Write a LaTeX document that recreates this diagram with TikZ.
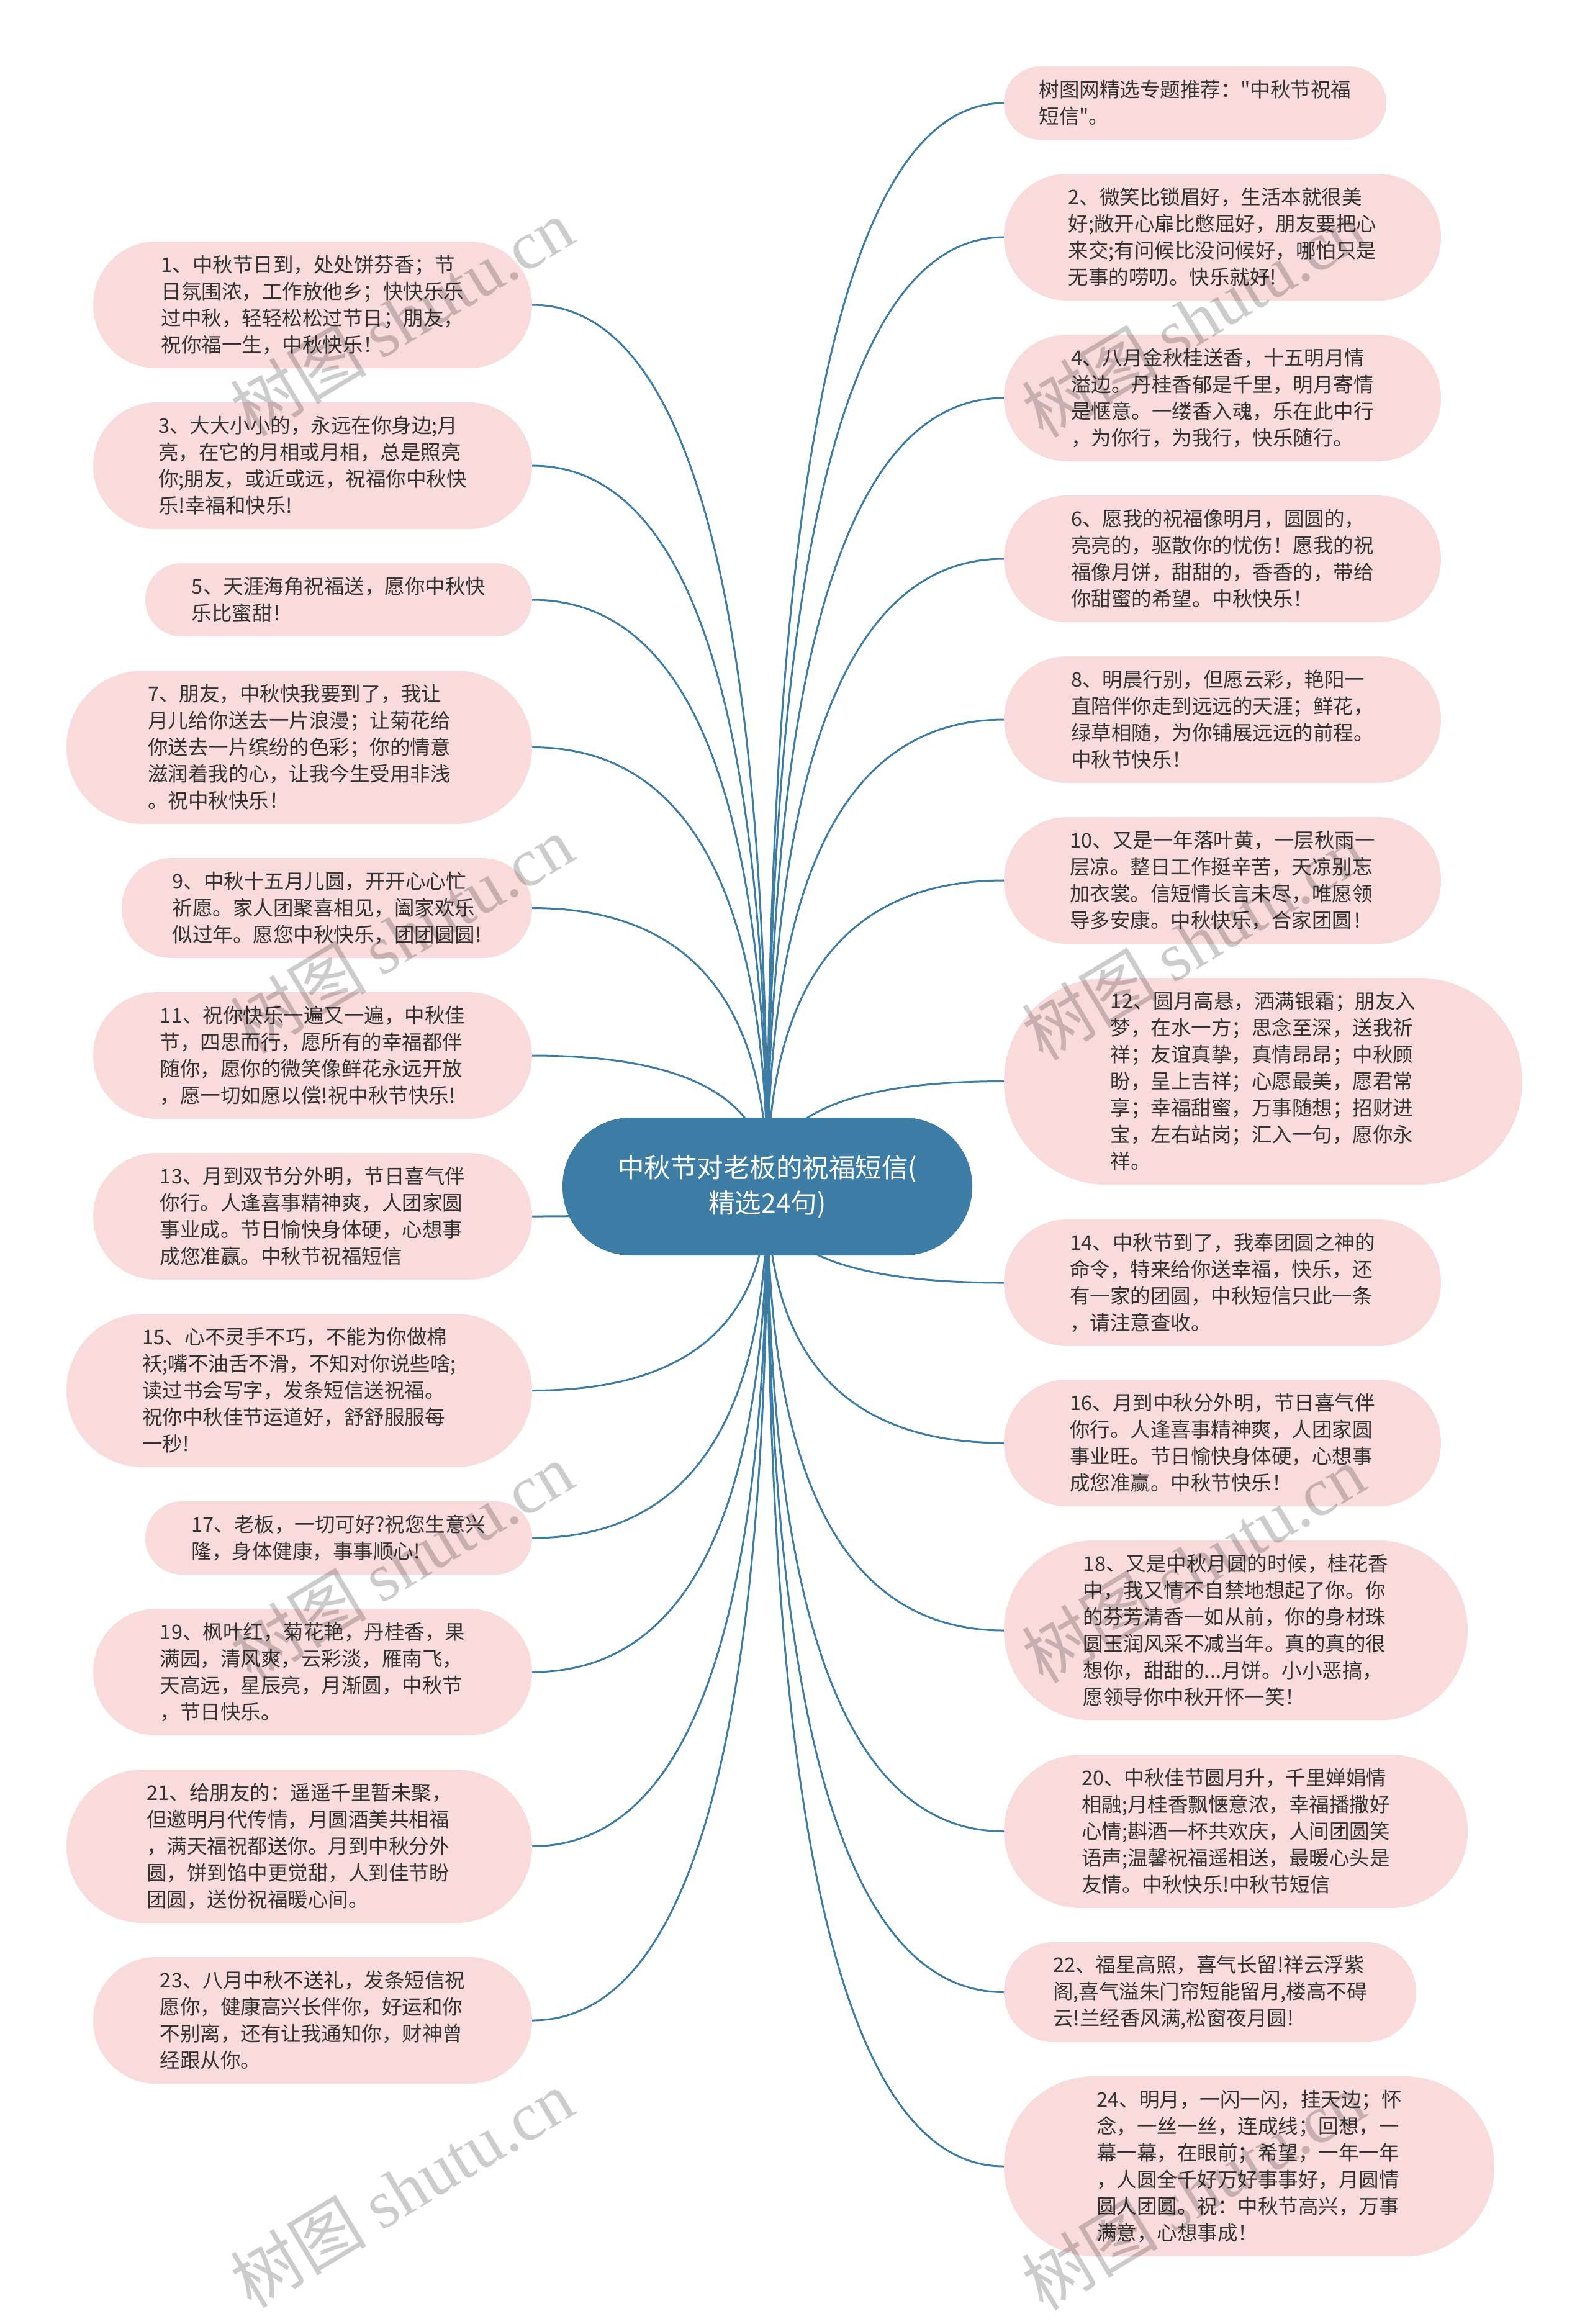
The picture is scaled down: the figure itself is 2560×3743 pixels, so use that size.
\documentclass[tikz,border=0pt]{standalone}
\usepackage{fontspec}
\setmainfont{Noto Sans CJK SC}
\newfontfamily\plaincjk{Noto Sans CJK SC}
\newfontfamily\wmlatin{Liberation Serif}
\usetikzlibrary{calc,backgrounds}
\definecolor{hubblue}{HTML}{3D7CA4}
\definecolor{leaffill}{HTML}{FADBDB}
\definecolor{leaftext}{HTML}{333333}
\begin{document}
\begin{tikzpicture}[x=1pt,y=-1pt,
  leaf/.style={fill=leaffill, text=leaftext, align=left, inner sep=0pt,
    font=\plaincjk\fontsize{32.5}{43}\selectfont},
  sz/.style n args={3}{minimum width=#1pt, minimum height=#2pt, rounded corners=#3pt},
  hub/.style={fill=hubblue, text=white, align=center, inner sep=0pt,
    font=\plaincjk\fontsize{42.5}{57}\selectfont, minimum width=660pt, minimum height=222pt,
    rounded corners=110pt},
  edge/.style={draw=hubblue, line width=3pt},
  wm/.style={text=black, text opacity=0.2, rotate=31, inner sep=0pt,
    font=\plaincjk\fontsize{110}{110}\selectfont}
]
\useasboundingbox (0,0) rectangle (2560,3743);

% central node
\node[hub] (c) at (1236,1911) {中秋节对老板的祝福短信(\\精选24句)};

% left column
\node[leaf, sz={707}{204}{101.5}] (L1) at (503.5,491) {1、中秋节日到，处处饼芬香；节\\日氛围浓，工作放他乡；快快乐乐\\过中秋，轻轻松松过节日；朋友，\\祝你福一生，中秋快乐！};
\node[leaf, sz={707}{204}{101.5}] (L3) at (503.5,750) {3、大大小小的，永远在你身边;月\\亮，在它的月相或月相，总是照亮\\你;朋友，或近或远，祝福你中秋快\\乐!幸福和快乐!};
\node[leaf, sz={623}{118}{58.5}] (L5) at (545.5,966) {5、天涯海角祝福送，愿你中秋快\\乐比蜜甜！};
\node[leaf, sz={750}{247}{123}] (L7) at (482,1203.5) {7、朋友，中秋快我要到了，我让\\月儿给你送去一片浪漫；让菊花给\\你送去一片缤纷的色彩；你的情意\\滋润着我的心，让我今生受用非浅\\。祝中秋快乐！};
\node[leaf, sz={661}{161}{80}] (L9) at (526.5,1462.5) {9、中秋十五月儿圆，开开心心忙\\祈愿。家人团聚喜相见，阖家欢乐\\似过年。愿您中秋快乐，团团圆圆!};
\node[leaf, sz={707}{204}{101.5}] (L11) at (503.5,1700) {11、祝你快乐一遍又一遍，中秋佳\\节，四思而行，愿所有的幸福都伴\\随你，愿你的微笑像鲜花永远开放\\，愿一切如愿以偿!祝中秋节快乐!};
\node[leaf, sz={707}{204}{101.5}] (L13) at (503.5,1959) {13、月到双节分外明，节日喜气伴\\你行。人逢喜事精神爽，人团家圆\\事业成。节日愉快身体硬，心想事\\成您准赢。中秋节祝福短信};
\node[leaf, sz={750}{247}{123}] (L15) at (482,2239.5) {15、心不灵手不巧，不能为你做棉\\袄;嘴不油舌不滑，不知对你说些啥;\\读过书会写字，发条短信送祝福。\\祝你中秋佳节运道好，舒舒服服每\\一秒!};
\node[leaf, sz={623}{118}{58.5}] (L17) at (545.5,2477) {17、老板，一切可好?祝您生意兴\\隆，身体健康，事事顺心!};
\node[leaf, sz={707}{204}{101.5}] (L19) at (503.5,2693) {19、枫叶红，菊花艳，丹桂香，果\\满园，清风爽，云彩淡，雁南飞，\\天高远，星辰亮，月渐圆，中秋节\\，节日快乐。};
\node[leaf, sz={750}{247}{123}] (L21) at (482,2973.5) {21、给朋友的：遥遥千里暂未聚，\\但邀明月代传情，月圆酒美共相福\\，满天福祝都送你。月到中秋分外\\圆，饼到馅中更觉甜，人到佳节盼\\团圆，送份祝福暖心间。};
\node[leaf, sz={707}{204}{101.5}] (L23) at (503.5,3254) {23、八月中秋不送礼，发条短信祝\\愿你，健康高兴长伴你，好运和你\\不别离，还有让我通知你，财神曾\\经跟从你。};

% right column
\node[leaf, sz={616}{118}{58.5}] (R0) at (1925,166) {树图网精选专题推荐："中秋节祝福\\短信"。};
\node[leaf, sz={704}{204}{101.5}] (R2) at (1969,382) {2、微笑比锁眉好，生活本就很美\\好;敞开心扉比憋屈好，朋友要把心\\来交;有问候比没问候好，哪怕只是\\无事的唠叨。快乐就好!};
\node[leaf, sz={704}{204}{101.5}] (R4) at (1969,641) {4、八月金秋桂送香，十五明月情\\溢边。丹桂香郁是千里，明月寄情\\是惬意。一缕香入魂，乐在此中行\\，为你行，为我行，快乐随行。};
\node[leaf, sz={704}{204}{101.5}] (R6) at (1969,900) {6、愿我的祝福像明月，圆圆的，\\亮亮的，驱散你的忧伤！愿我的祝\\福像月饼，甜甜的，香香的，带给\\你甜蜜的希望。中秋快乐！};
\node[leaf, sz={704}{204}{101.5}] (R8) at (1969,1159) {8、明晨行别，但愿云彩，艳阳一\\直陪伴你走到远远的天涯；鲜花，\\绿草相随，为你铺展远远的前程。\\中秋节快乐！};
\node[leaf, sz={704}{204}{101.5}] (R10) at (1969,1418) {10、又是一年落叶黄，一层秋雨一\\层凉。整日工作挺辛苦，天凉别忘\\加衣裳。信短情长言未尽，唯愿领\\导多安康。中秋快乐，合家团圆！};
\node[leaf, sz={835}{333}{166}] (R12) at (2034.5,1741.5) {12、圆月高悬，洒满银霜；朋友入\\梦，在水一方；思念至深，送我祈\\祥；友谊真挚，真情昂昂；中秋顾\\盼，呈上吉祥；心愿最美，愿君常\\享；幸福甜蜜，万事随想；招财进\\宝，左右站岗；汇入一句，愿你永\\祥。};
\node[leaf, sz={704}{204}{101.5}] (R14) at (1969,2066) {14、中秋节到了，我奉团圆之神的\\命令，特来给你送幸福，快乐，还\\有一家的团圆，中秋短信只此一条\\，请注意查收。};
\node[leaf, sz={704}{204}{101.5}] (R16) at (1969,2324) {16、月到中秋分外明，节日喜气伴\\你行。人逢喜事精神爽，人团家圆\\事业旺。节日愉快身体硬，心想事\\成您准赢。中秋节快乐！};
\node[leaf, sz={747}{290}{144.5}] (R18) at (1990.5,2626) {18、又是中秋月圆的时候，桂花香\\中，我又情不自禁地想起了你。你\\的芬芳清香一如从前，你的身材珠\\圆玉润风采不减当年。真的真的很\\想你，甜甜的...月饼。小小恶搞，\\愿领导你中秋开怀一笑！};
\node[leaf, sz={747}{247}{123}] (R20) at (1990.5,2949.5) {20、中秋佳节圆月升，千里婵娟情\\相融;月桂香飘惬意浓，幸福播撒好\\心情;斟酒一杯共欢庆，人间团圆笑\\语声;温馨祝福遥相送，最暖心头是\\友情。中秋快乐!中秋节短信};
\node[leaf, sz={664}{161}{80}] (R22) at (1949,3208.5) {22、福星高照，喜气长留!祥云浮紫\\阁,喜气溢朱门帘短能留月,楼高不碍\\云!兰经香风满,松窗夜月圆!};
\node[leaf, sz={790}{290}{144.5}] (R24) at (2012,3489) {24、明月，一闪一闪，挂天边；怀\\念，一丝一丝，连成线；回想，一\\幕一幕，在眼前；希望，一年一年\\，人圆全千好万好事事好，月圆情\\圆人团圆。祝：中秋节高兴，万事\\满意，心想事成！};

% connectors (behind the nodes)
\begin{scope}[on background layer]
\fill[white] (0,0) rectangle (2560,3743);
\foreach \n in {L1,L3,L5,L7,L9,L11,L13,L15,L17,L19,L21,L23} {
  \draw[edge] (c.center) .. controls ($(c.center)!0.6667!(c.center |- \n.east)$)
    and ($(\n.east)!0.6667!(c.center |- \n.east)$) .. (\n.east);
}
\foreach \n in {R0,R2,R4,R6,R8,R10,R12,R14,R16,R18,R20,R22,R24} {
  \draw[edge] (c.center) .. controls ($(c.center)!0.6667!(c.center |- \n.west)$)
    and ($(\n.west)!0.6667!(c.center |- \n.west)$) .. (\n.west);
}
\end{scope}

% watermarks
\node[wm] (w1) at (647,511) {树图 {\wmlatin shutu.cn}};
\node[wm] (w2) at (647,1505) {树图 {\wmlatin shutu.cn}};
\node[wm] (w3) at (647,2515) {树图 {\wmlatin shutu.cn}};
\node[wm] (w4) at (647,3525) {树图 {\wmlatin shutu.cn}};
\node[wm] (w5) at (1922,513) {树图 {\wmlatin shutu.cn}};
\node[wm] (w6) at (1922,1516) {树图 {\wmlatin shutu.cn}};
\node[wm] (w7) at (1922,2519) {树图 {\wmlatin shutu.cn}};
\node[wm] (w8) at (1922,3529) {树图 {\wmlatin shutu.cn}};
\end{tikzpicture}
\end{document}
